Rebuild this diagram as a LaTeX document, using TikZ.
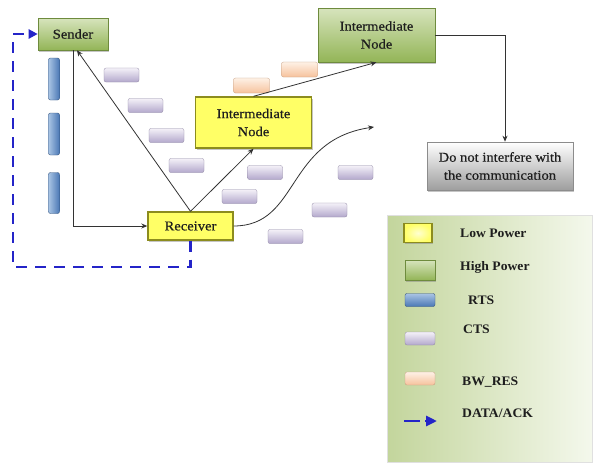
\documentclass[tikz,border=0pt]{standalone}
\usepackage{fontspec}
\setmainfont{Liberation Serif}
\newfontfamily\boxfont[FakeStretch=1.08,FakeBold=0.5]{Liberation Serif}
\newfontfamily\legfont[FakeStretch=1.05]{Liberation Serif Bold}
\usetikzlibrary{arrows.meta,shadows}
\definecolor{grtop}{HTML}{D7E4BD}
\definecolor{grbot}{HTML}{93B557}
\definecolor{grborder}{HTML}{6E8B3D}
\definecolor{ylw}{HTML}{FFFF66}
\definecolor{ylwborder}{HTML}{8C8C1E}
\definecolor{rtstop}{HTML}{A9C4E4}
\definecolor{rtsbot}{HTML}{4A78B5}
\definecolor{ctstop}{HTML}{F4F1F8}
\definecolor{ctsbot}{HTML}{B3A8CC}
\definecolor{bwtop}{HTML}{FEF1E6}
\definecolor{bwbot}{HTML}{F6C29C}
\definecolor{datablue}{HTML}{2424C8}
\definecolor{txt}{HTML}{1E1E1E}
\definecolor{legA}{HTML}{C3D59C}
\definecolor{legM}{HTML}{E4EDD2}
\definecolor{legB}{HTML}{F4F8EC}
\tikzset{
  basebox/.style={rectangle, inner sep=0pt, align=center, text=txt,
    font=\boxfont\fontsize{13.5}{18}\selectfont,
    drop shadow={shadow xshift=1.2pt, shadow yshift=-1.6pt, opacity=0.45}},
  greenbox/.style={basebox, top color=grtop, bottom color=grbot, draw=grborder, line width=0.6pt},
  yellowbox/.style={basebox, fill=ylw, draw=ylwborder, line width=1.4pt},
  greybox/.style={basebox, top color=white, bottom color=black!38, draw=black!45, line width=0.6pt},
  rts/.style={rectangle, rounded corners=2pt, draw=rtsbot!70!black, line width=0.4pt, left color=rtstop, right color=rtsbot, inner sep=0pt},
  rtsh/.style={rectangle, rounded corners=2pt, draw=rtsbot!70!black, line width=0.4pt, top color=rtstop, bottom color=rtsbot, inner sep=0pt},
  cts/.style={rectangle, rounded corners=2pt, draw=ctsbot!80!black, line width=0.3pt, top color=ctstop, bottom color=ctsbot, inner sep=0pt, minimum width=35pt, minimum height=14pt},
  bwres/.style={rectangle, rounded corners=2pt, draw=bwbot!80!black, line width=0.3pt, top color=bwtop, bottom color=bwbot, inner sep=0pt, minimum width=36pt, minimum height=15pt},
  arr/.style={draw=black!80, line width=0.8pt, -{Stealth[length=6pt,width=5pt]}},
  dataack/.style={draw=datablue, line width=2.8pt, dash pattern=on 11pt off 8pt, -{Triangle[length=9pt,width=9pt]}},
  legtext/.style={anchor=west, text=txt, inner sep=0pt, font=\legfont\fontsize{13}{15}\selectfont},
}
\begin{document}
\begin{tikzpicture}[x=1pt,y=-1pt]
\useasboundingbox (0,0) rectangle (595,464);
\fill[white] (0,0) rectangle (595,464);

% legend panel
\shade[left color=legA, middle color=legM, right color=legB, draw=black!12] (387,215) rectangle (592,462);

% RTS bars
\node[rts, minimum width=11pt, minimum height=42pt] (r1) at (54,79) {};
\node[rts, minimum width=11pt, minimum height=42pt] (r2) at (54,134) {};
\node[rts, minimum width=11pt, minimum height=41pt] (r3) at (54,193) {};

% CTS boxes
\node[cts] (c1) at (121.5,75) {};
\node[cts] (c2) at (145.5,105.5) {};
\node[cts] (c3) at (166.5,135.5) {};
\node[cts] (c4) at (186.5,165.5) {};
\node[cts] (c5) at (239.5,196.5) {};
\node[cts] (c6) at (265,172.5) {};
\node[cts] (c7) at (285.5,236.5) {};
\node[cts] (c8) at (329.5,210) {};
\node[cts] (c9) at (355.5,172.5) {};

% BW_RES boxes
\node[bwres] (b1) at (251.5,85.5) {};
\node[bwres] (b2) at (299.5,69.5) {};

% main nodes
\node[greenbox, minimum width=70pt, minimum height=32pt] (sender) at (73,34) {Sender};
\node[yellowbox, minimum width=85pt, minimum height=28pt] (receiver) at (190.5,226) {Receiver};
\node[yellowbox, minimum width=116pt, minimum height=51pt] (yint) at (253.5,122.5) {Intermediate\\Node};
\node[greenbox, minimum width=117pt, minimum height=54pt] (gint) at (376.5,35) {Intermediate\\Node};
\node[greybox, minimum width=146pt, minimum height=48pt] (grey) at (500,166) {Do not interfere with\\the communication};

% connectors
\draw[arr] (sender.south) |- (receiver.west);
\draw[arr] (receiver.north) -- ([xshift=4pt]sender.south);
\draw[arr] (receiver.north) -- (yint.south);
\draw[arr] (yint.north) -- (gint.south);
\draw[arr] (gint.east) -| ([xshift=5pt]grey.north);
\coordinate (curveend) at (374,127);
\draw[arr] (receiver.east) .. controls (300,226) and (285,140) .. (curveend);
\coordinate (dcorner) at (13,267);
\draw[dataack] (receiver.south) |- (dcorner) |- (sender.west);

% legend items
\node[yellowbox, drop shadow={opacity=0}, inner color=white!70!ylw, outer color=ylw, minimum width=28pt, minimum height=19pt] (lg1) at (418,233) {};
\node[greenbox, minimum width=30pt, minimum height=20pt] (lg2) at (420,270) {};
\node[rtsh, minimum width=30pt, minimum height=13pt] (lg3) at (420,300) {};
\node[cts, minimum width=30pt, minimum height=13pt] (lg4) at (420,338.5) {};
\node[bwres, minimum width=30pt, minimum height=13pt] (lg5) at (420,378.5) {};
\coordinate (lg6a) at (404,421);
\coordinate (lg6b) at (437,421);
\draw[draw=datablue, line width=2.8pt, dash pattern=on 16pt off 5pt, -{Triangle[length=11pt,width=10pt]}] (lg6a) -- (lg6b);

\node[legtext] (t1) at (460,233) {Low Power};
\node[legtext] (t2) at (460,267) {High Power};
\node[legtext] (t3) at (468,300) {RTS};
\node[legtext] (t4) at (463,329) {CTS};
\node[legtext] (t5) at (462,382) {BW\_RES};
\node[legtext] (t6) at (462,413) {DATA/ACK};
\end{tikzpicture}
\end{document}
